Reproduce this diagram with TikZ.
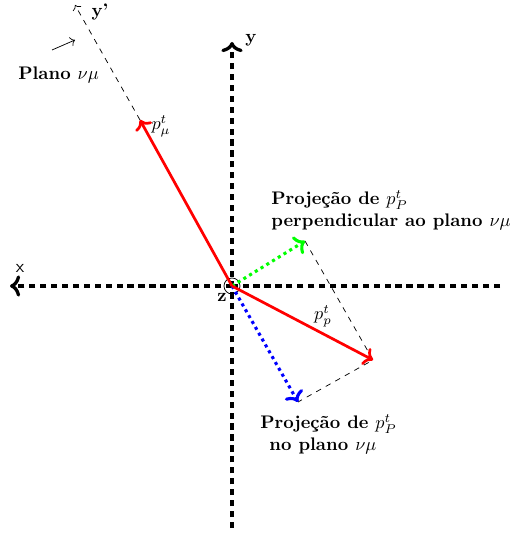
\documentclass[tikz,border=0pt]{standalone}
\usepackage{amsmath,amssymb}
\usepackage{tikz}
\usetikzlibrary{arrows.meta,positioning,calc}
\usepackage{xcolor}
\definecolor{vecred}{RGB}{255,0,0}
\definecolor{projgreen}{RGB}{0,255,0}
\definecolor{projblue}{RGB}{0,0,255}

\begin{document}
\begin{tikzpicture}[x=0.0193cm, y=-0.0193cm, >=To]
\tikzset{
  eixo/.style={->, black, line width=1.8pt, dash pattern=on 3.4pt off 2.6pt},
  vetor/.style={->, vecred, line width=1.5pt},
  proj/.style={->, line width=1.7pt, dotted},
  guia/.style={black, thin, dashed},
  rot/.style={font=\bfseries, align=left, inner sep=0pt}
}
\useasboundingbox (0,0) rectangle (515,534);
\coordinate (o) at (232,286);
\coordinate (xl) at (10,286);
\coordinate (xr) at (500,286);
\coordinate (yt) at (232,42);
\coordinate (yb) at (232,528);
\coordinate (pmu) at (140,120);
\coordinate (yl) at (75,5);
\coordinate (pp) at (373,360);
\coordinate (pg) at (305,241);
\coordinate (pb) at (298,402);
\coordinate (sa) at (52,50);
\coordinate (sb) at (75,40);

\draw[eixo, -] (xr) -- (o);
\draw[eixo] (o) -- (xl);
\draw[eixo] (yb) -- (yt);
\draw[black, thin] (o) circle (8);
\draw[guia, ->] (pmu) -- (yl);
\draw[guia] (pg) -- (pp) -- (pb);
\draw[proj, projgreen] (o) -- (pg);
\draw[proj, projblue] (o) -- (pb);
\draw[vetor] (o) -- (pmu);
\draw[vetor] (o) -- (pp);
\draw[->, thin] (sa) -- (sb);

\node[font=\sffamily] (lx) at (20,268) {x};
\node[font=\bfseries] (ly) at (251,40) {y};
\node[font=\bfseries] (lz) at (222,297) {z};
\node[font=\bfseries] (lyp) at (100,12) {y'};
\node (lpmu) at (161,126) {$p_\mu^t$};
\node (lpp) at (323,316) {$p_p^t$};
\node[rot, anchor=west] (lplano) at (18,75) {Plano $\nu\mu$};
\node[rot, anchor=north west] (lperp) at (271,190) {Projeção de $p_P^t$\\perpendicular ao plano $\nu\mu$};
\node[rot, anchor=north west] (lno) at (260,414) {Projeção de $p_P^t$\\\hspace{0.5em}no plano $\nu\mu$};
\end{tikzpicture}
\end{document}
